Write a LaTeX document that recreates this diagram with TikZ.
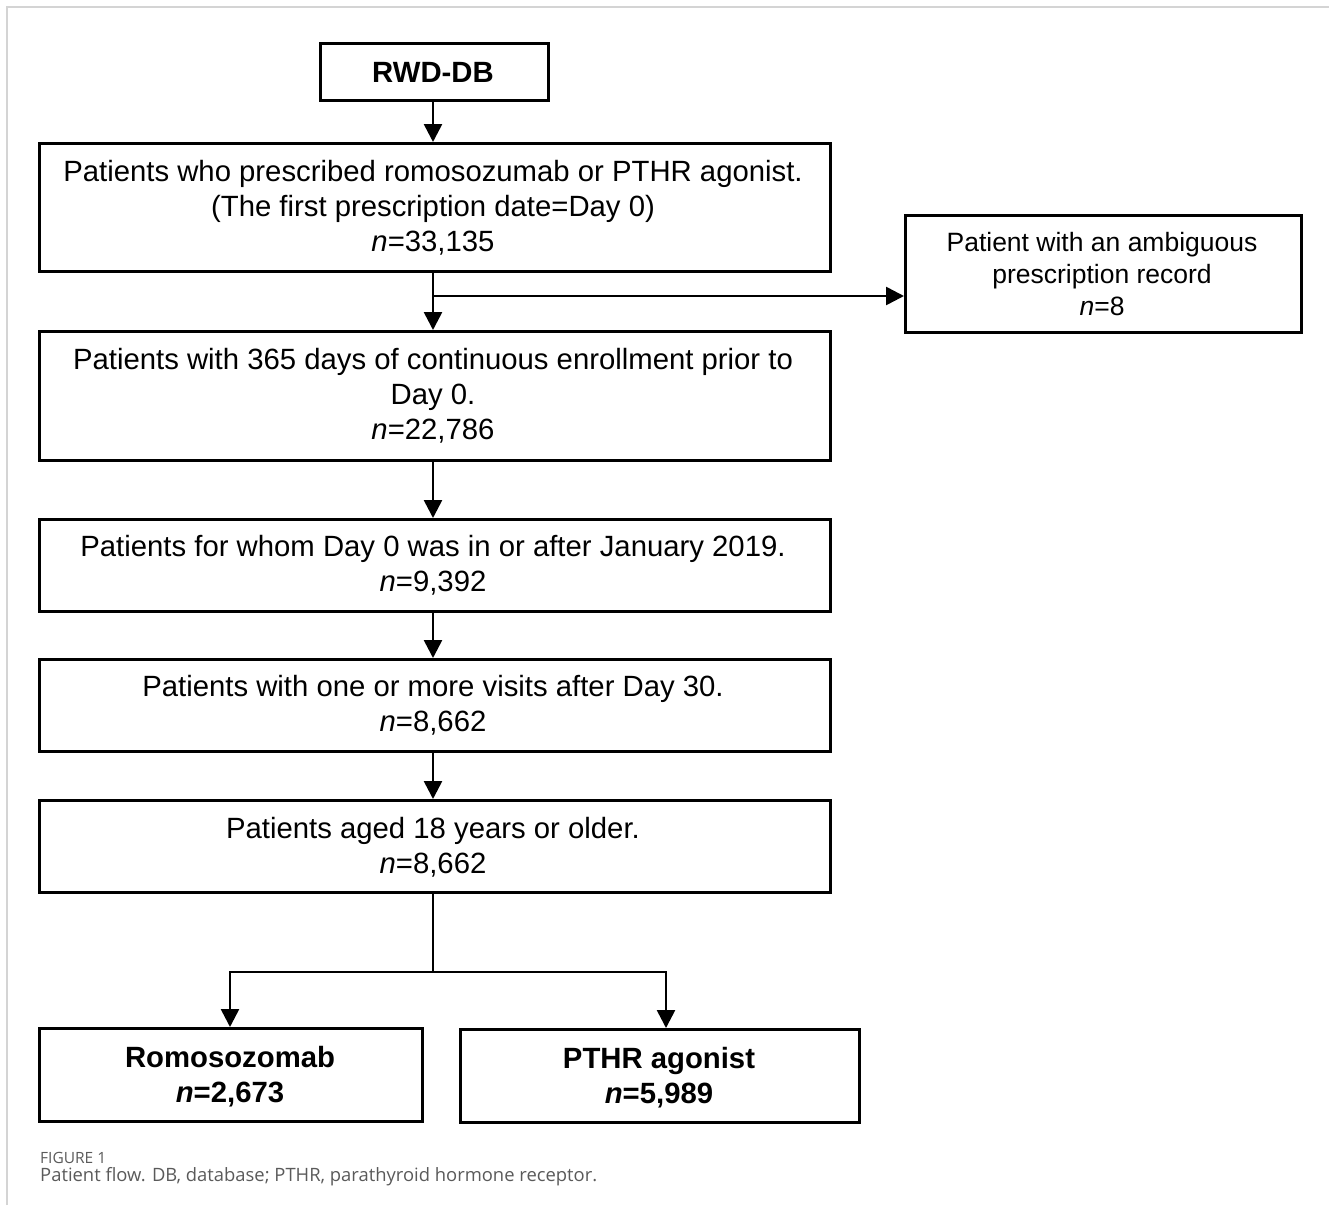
\documentclass[tikz,border=0pt]{standalone}
\usepackage{fontspec}
\setmainfont{Liberation Sans}
\newfontfamily\capfont{Open Sans}
\usetikzlibrary{arrows.meta}
\definecolor{framegray}{HTML}{D4D4D4}
\definecolor{capgray}{HTML}{5A5A5A}
\begin{document}
\begin{tikzpicture}[x=1pt,y=-1pt,
  boxstyle/.style={draw=black,line width=2.6pt,inner sep=0pt,anchor=north west},
  txt/.style={font=\fontsize{29.3}{35}\selectfont,align=center,inner sep=0pt},
  btxt/.style={font=\fontsize{29.3}{35}\selectfont\bfseries,align=center,inner sep=0pt},
  flow/.style={line width=2.6pt,-{Triangle[width=18pt,length=18pt]}},
  plain/.style={line width=2.6pt}]
\useasboundingbox (0,0) rectangle (1329,1205);
\draw[framegray,line width=1.5pt] (7,1205) -- (7,7) -- (1329,7);

% boxes
\node[boxstyle,minimum width=228pt,minimum height=57pt] (b0) at (319,42) {};
\node[boxstyle,minimum width=791pt,minimum height=128pt] (b1) at (38,142) {};
\node[boxstyle,minimum width=396pt,minimum height=117pt] (bs) at (904,214) {};
\node[boxstyle,minimum width=791pt,minimum height=129pt] (b2) at (38,330) {};
\node[boxstyle,minimum width=791pt,minimum height=92pt] (b3) at (38,518) {};
\node[boxstyle,minimum width=791pt,minimum height=92pt] (b4) at (38,658) {};
\node[boxstyle,minimum width=791pt,minimum height=92pt] (b5) at (38,799) {};
\node[boxstyle,minimum width=383pt,minimum height=93pt] (br) at (38,1027) {};
\node[boxstyle,minimum width=399pt,minimum height=93pt] (bp) at (459,1028) {};

% texts
\node[btxt] (t0) at (433,72) {RWD-DB};
\node[txt] (t1) at (433,208) {Patients who prescribed romosozumab or PTHR agonist.\\(The first prescription date=Day 0)\\\textit{n}=33,135};
\node[txt,font=\fontsize{26.5}{32}\selectfont] (ts) at (1102,274) {Patient with an ambiguous\\prescription record\\\textit{n}=8};
\node[txt] (t2) at (433,396) {Patients with 365 days of continuous enrollment prior to\\Day 0.\\\textit{n}=22,786};
\node[txt] (t3) at (433,565) {Patients for whom Day 0 was in or after January 2019.\\\textit{n}=9,392};
\node[txt] (t4) at (433,705) {Patients with one or more visits after Day 30.\\\textit{n}=8,662};
\node[txt] (t5) at (433,847) {Patients aged 18 years or older.\\\textit{n}=8,662};
\node[btxt] (tr) at (230,1077) {Romosozomab\\\textit{n}=2,673};
\node[btxt] (tp) at (659,1078) {PTHR agonist\\\textit{n}=5,989};

% connectors
\coordinate (s1) at (433,296);
\coordinate (j) at (433,972);
\coordinate (jl) at (230,972);
\coordinate (jr) at (666,972);
\draw[flow] (b0.south -| 433,0) -- (b1.north -| 433,0);
\draw[flow] (b1.south -| 433,0) -- (b2.north -| 433,0);
\draw[flow] (s1) -- (bs.west |- s1);
\draw[flow] (b2.south -| 433,0) -- (b3.north -| 433,0);
\draw[flow] (b3.south -| 433,0) -- (b4.north -| 433,0);
\draw[flow] (b4.south -| 433,0) -- (b5.north -| 433,0);
\draw[plain] (b5.south -| 433,0) -- (j);
\draw[flow] (j) -- (jl) -- (br.north -| jl);
\draw[flow] (j) -- (jr) -- (bp.north -| jr);

% caption
\node[anchor=west,inner sep=0pt,text=capgray,font=\capfont\fontsize{15.5}{16}\selectfont] (c1) at (40,1158) {FIGURE 1};
\node[anchor=west,inner sep=0pt,text=capgray,font=\capfont\fontsize{18.4}{21}\selectfont] (c2) at (40,1177) {Patient flow. DB, database; PTHR, parathyroid hormone receptor.};
\end{tikzpicture}
\end{document}
